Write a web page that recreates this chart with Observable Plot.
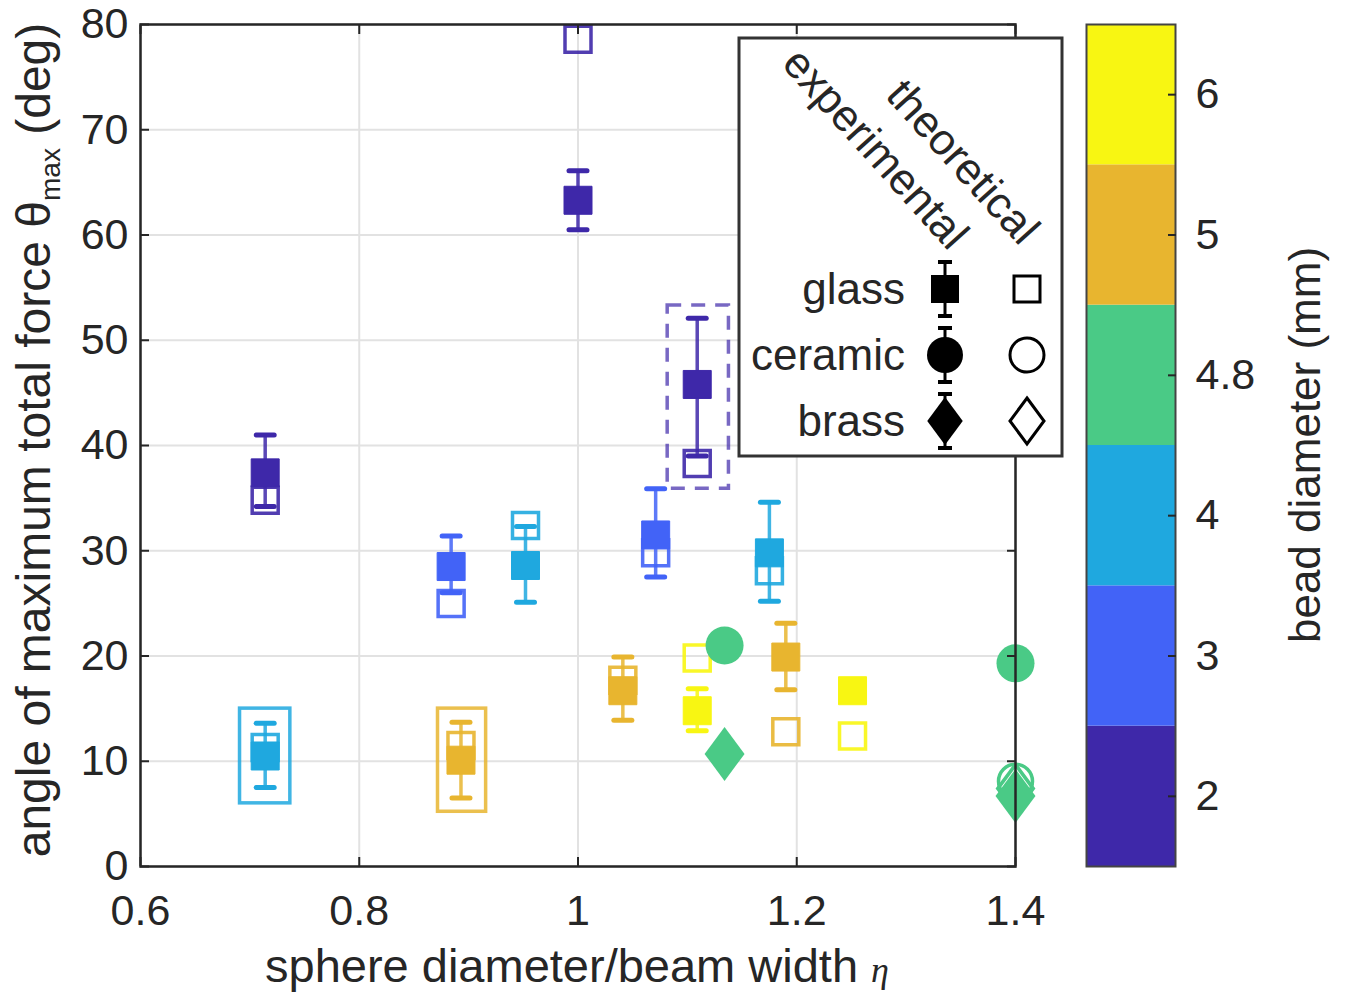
<!DOCTYPE html>
<html><head><meta charset="utf-8">
<script src="https://cdn.jsdelivr.net/npm/d3@7"></script>
<script src="https://cdn.jsdelivr.net/npm/@observablehq/plot@0.6"></script>
<style>
body{margin:0;background:#fff;font-family:"Liberation Sans",Arial,sans-serif;}
#wrap{position:relative;width:1348px;height:998px;overflow:hidden;}
#wrap > svg{position:absolute;top:0;}
</style></head><body><div id="wrap"></div>
<script>
// ---- data ----
const diameters = [2, 3, 4, 4.8, 5, 6];
const diameterLabels = ["2", "3", "4", "4.8", "5", "6"];
const diameterColors = ["#3e28a9", "#4263f7", "#1fa8df", "#4aca86", "#e8b52f", "#f8f612"];

const xTicks = [0.6, 0.8, 1, 1.2, 1.4];
const xTickLabels = ["0.6", "0.8", "1", "1.2", "1.4"];
const yTicks = [0, 10, 20, 30, 40, 50, 60, 70, 80];

// glass beads (squares)
const glassEta  = [0.714, 1.0, 1.109, 0.884, 1.071, 0.714, 0.952, 1.175, 0.893, 1.041, 1.19, 1.109, 1.251];
const glassDiam = [2, 2, 2, 3, 3, 4, 4, 4, 5, 5, 5, 6, 6];
const glassExp  = [37.4, 63.3, 45.8, 28.5, 31.5, 10.5, 28.6, 29.8, 10.1, 16.7, 19.9, 14.8, 16.7];
const glassLo   = [34.2, 60.5, 39.0, 26.0, 27.5, 7.5, 25.1, 25.2, 6.5, 13.9, 16.8, 12.9, 15.8];
const glassHi   = [41.0, 66.1, 52.1, 31.4, 35.9, 13.6, 32.3, 34.6, 13.7, 19.9, 23.1, 16.9, 17.6];
const glassTheo = [34.8, 78.6, 38.3, 25.0, 29.8, 11.3, 32.4, 28.1, 11.5, 17.7, 12.8, 19.8, 12.4];

// ceramic beads (circles)
const ceramicEta  = [1.134, 1.4];
const ceramicDiam = [4.8, 4.8];
const ceramicExp  = [21.0, 19.3];
const ceramicTheo = [NaN, 8.1];

// brass beads (diamonds)
const brassEta  = [1.134, 1.4];
const brassDiam = [4.8, 4.8];
const brassExp  = [10.7, 6.7];
const brassTheo = [NaN, 7.4];

// highlight boxes
const boxEta1  = [1.082, 0.691, 0.872];
const boxEta2  = [1.138, 0.737, 0.916];
const boxLo    = [35.9, 6.0, 5.2];
const boxHi    = [53.3, 15.0, 15.0];
const boxDiam  = [2, 4, 5];
const boxDashed = [true, false, false];

// ---- rows ----
const glassRows = glassEta.map((eta, i) => ({eta, diam: glassDiam[i], exp: glassExp[i], lo: glassLo[i], hi: glassHi[i], theo: glassTheo[i]}));
const ceramicRows = ceramicEta.map((eta, i) => ({eta, diam: ceramicDiam[i], exp: ceramicExp[i], theo: ceramicTheo[i]}));
const brassRows = brassEta.map((eta, i) => ({eta, diam: brassDiam[i], exp: brassExp[i], theo: brassTheo[i]}));
const boxRows = boxEta1.map((e1, i) => ({e1, e2: boxEta2[i], lo: boxLo[i], hi: boxHi[i], diam: boxDiam[i], dashed: boxDashed[i]}));

// ---- symbols ----
const squareSym = {draw(ctx, size) {const r = Math.sqrt(size / Math.PI); ctx.moveTo(-r, -r); ctx.lineTo(r, -r); ctx.lineTo(r, r); ctx.lineTo(-r, r); ctx.closePath();}};
const diamondSym = {draw(ctx, size) {const r = Math.sqrt(size / Math.PI), w = r * 0.74; ctx.moveTo(0, -r); ctx.lineTo(w, 0); ctx.lineTo(0, r); ctx.lineTo(-w, 0); ctx.closePath();}};
const capSym = {draw(ctx, size) {const r = Math.sqrt(size / Math.PI); ctx.moveTo(-r, 0); ctx.lineTo(r, 0);}};

const FONT = '"Liberation Sans", Arial, sans-serif';
const INK = "#262626";
const colorScale = {type: "ordinal", domain: diameters, range: diameterColors};

const chart = Plot.plot({
  width: 1348, height: 998,
  marginLeft: 140, marginRight: 333, marginTop: 24, marginBottom: 132,
  x: {domain: [0.6, 1.4]},
  y: {domain: [0, 80]},
  color: colorScale,
  style: {fontFamily: FONT, fontSize: "43px", color: INK, background: "transparent", overflow: "visible"},
  marks: [
    Plot.gridX(xTicks, {stroke: "#e2e2e2", strokeOpacity: 1, strokeWidth: 2}),
    Plot.gridY(yTicks, {stroke: "#e2e2e2", strokeOpacity: 1, strokeWidth: 2}),
    Plot.rect(boxRows.filter(d => !d.dashed), {x1: "e1", x2: "e2", y1: "lo", y2: "hi", stroke: "diam", fill: "none", strokeWidth: 3.5, strokeOpacity: 0.85}),
    Plot.rect(boxRows.filter(d => d.dashed), {x1: "e1", x2: "e2", y1: "lo", y2: "hi", stroke: "diam", fill: "none", strokeWidth: 3.5, strokeOpacity: 0.7, strokeDasharray: "14,10"}),
    // theoretical (open)
    Plot.dot(glassRows, {x: "eta", y: "theo", symbol: squareSym, r: 13, fill: "none", stroke: "diam", strokeWidth: 3.5, strokeOpacity: 0.9}),
    Plot.dot(ceramicRows.filter(d => !isNaN(d.theo)), {x: "eta", y: "theo", r: 17, fill: "none", stroke: "diam", strokeWidth: 3.5}),
    Plot.dot(brassRows.filter(d => !isNaN(d.theo)), {x: "eta", y: "theo", symbol: diamondSym, r: 24, fill: "none", stroke: "diam", strokeWidth: 3.5}),
    // error bars
    Plot.ruleX(glassRows, {x: "eta", y1: "lo", y2: "hi", stroke: "diam", strokeWidth: 3.5, strokeOpacity: 0.85}),
    Plot.dot(glassRows, {x: "eta", y: "hi", symbol: capSym, r: 9, fill: "none", stroke: "diam", strokeWidth: 5, strokeLinecap: "round"}),
    Plot.dot(glassRows, {x: "eta", y: "lo", symbol: capSym, r: 9, fill: "none", stroke: "diam", strokeWidth: 5, strokeLinecap: "round"}),
    // experimental (filled)
    Plot.dot(glassRows, {x: "eta", y: "exp", symbol: squareSym, r: 14, fill: "diam", stroke: "diam", strokeWidth: 1}),
    Plot.dot(ceramicRows, {x: "eta", y: "exp", r: 19, fill: "diam"}),
    Plot.dot(brassRows, {x: "eta", y: "exp", symbol: diamondSym, r: 27, fill: "diam"}),
    Plot.frame({stroke: INK, strokeWidth: 2.5}),
    Plot.axisX(xTicks, {anchor: "bottom", tickSize: -9, fill: "none", stroke: INK, strokeWidth: 2, label: null}),
    Plot.axisX(xTicks, {anchor: "top", tickSize: -9, fill: "none", stroke: INK, strokeWidth: 2, label: null}),
    Plot.axisY(yTicks, {anchor: "left", tickSize: -9, fill: "none", stroke: INK, strokeWidth: 2, label: null}),
    Plot.axisY(yTicks, {anchor: "right", tickSize: -9, fill: "none", stroke: INK, strokeWidth: 2, label: null}),
    Plot.axisX(xTicks, {anchor: "bottom", tickSize: 0, tickPadding: 28, tickFormat: d => xTickLabels[xTicks.indexOf(d)], fill: INK, label: null}),
    Plot.axisY(yTicks, {anchor: "left", tickSize: 0, tickPadding: 12, fill: INK, label: null})
  ]
});

const svg = d3.select(chart);

// axis titles
const xl = svg.append("text").attr("x", 577).attr("y", 982).attr("text-anchor", "middle")
  .attr("font-size", 47).attr("fill", INK).attr("font-family", FONT);
xl.append("tspan").text("sphere diameter/beam width ");
xl.append("tspan").attr("font-family", '"Liberation Serif", serif').attr("font-style", "italic").attr("font-size", 36).text("η");

const yl = svg.append("text").attr("transform", "translate(50,440) rotate(-90)").attr("text-anchor", "middle")
  .attr("font-size", 48).attr("fill", INK).attr("font-family", FONT);
yl.append("tspan").text("angle of maximum total force θ");
yl.append("tspan").attr("font-size", 28).attr("dy", 10).text("max");
yl.append("tspan").attr("dy", -10).text(" (deg)");

// legend
const lg = svg.append("g").attr("font-family", FONT).attr("font-size", 44).attr("fill", INK);
lg.append("rect").attr("x", 739).attr("y", 38).attr("width", 323).attr("height", 418)
  .attr("fill", "#fff").attr("stroke", "#333").attr("stroke-width", 3);
lg.append("text").attr("transform", "translate(949,252) rotate(48)").attr("text-anchor", "end").text("experimental");
lg.append("text").attr("transform", "translate(1020,247) rotate(48)").attr("text-anchor", "end").text("theoretical");
const legendNames = ["glass", "ceramic", "brass"];
const legendY = [289, 355, 421];
const legendSyms = [[squareSym, 14, 13], [d3.symbolCircle, 18, 17], [diamondSym, 24, 23]];
legendNames.forEach((name, i) => {
  const y = legendY[i];
  lg.append("text").attr("x", 905).attr("y", y).attr("dy", "0.35em").attr("text-anchor", "end").text(name);
  lg.append("line").attr("x1", 945).attr("x2", 945).attr("y1", y - 27).attr("y2", y + 27).attr("stroke", "#000").attr("stroke-width", 3);
  [y - 27, y + 27].forEach(cy => lg.append("line").attr("x1", 938).attr("x2", 952).attr("y1", cy).attr("y2", cy).attr("stroke", "#000").attr("stroke-width", 4));
  const [sym, rf, ro] = legendSyms[i];
  lg.append("path").attr("transform", `translate(945,${y})`).attr("d", d3.symbol(sym, Math.PI * rf * rf)()).attr("fill", "#000");
  lg.append("path").attr("transform", `translate(1027,${y})`).attr("d", d3.symbol(sym, Math.PI * ro * ro)()).attr("fill", "none").attr("stroke", "#000").attr("stroke-width", 3);
});

// colorbar
const cbRows = diameters.map((d, i) => ({diam: d, lo: i, hi: i + 1}));
const cbTicks = diameters.map((d, i) => i + 0.5);
const cb = Plot.plot({
  width: 262, height: 998,
  marginLeft: 0, marginRight: 173, marginTop: 24, marginBottom: 132,
  x: {domain: [0, 1], axis: null},
  y: {domain: [0, 6]},
  color: colorScale,
  style: {fontFamily: FONT, fontSize: "43px", color: INK, background: "transparent", overflow: "visible"},
  marks: [
    Plot.rect(cbRows, {x1: 0, x2: 1, y1: "lo", y2: "hi", fill: "diam"}),
    Plot.frame({stroke: "#444", strokeWidth: 2}),
    Plot.axisY(cbTicks, {anchor: "right", tickSize: -8, fill: "none", stroke: INK, strokeWidth: 2, label: null}),
    Plot.axisY(cbTicks, {anchor: "right", tickSize: 0, tickPadding: 20, tickFormat: d => diameterLabels[Math.floor(d)], fill: INK, label: null})
  ]
});
cb.style.left = "1086px";
d3.select(cb).append("text").attr("transform", "translate(234,445) rotate(-90)").attr("text-anchor", "middle")
  .attr("font-size", 44).attr("fill", INK).attr("font-family", FONT).text("bead diameter (mm)");

const wrap = document.getElementById("wrap");
chart.style.left = "0px";
wrap.appendChild(chart);
wrap.appendChild(cb);
</script></body></html>
